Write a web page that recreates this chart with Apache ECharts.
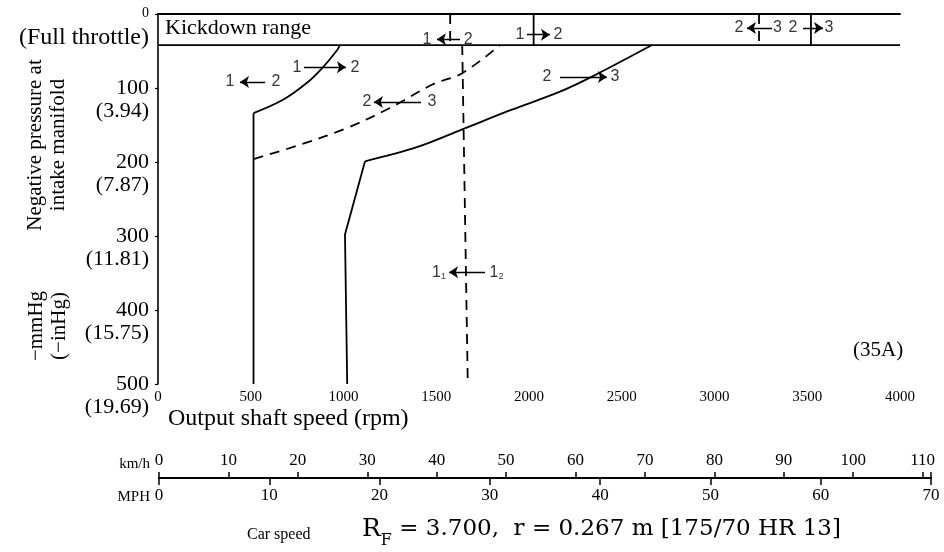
<!DOCTYPE html>
<html>
<head>
<meta charset="utf-8">
<script src="https://cdn.jsdelivr.net/npm/echarts@6/dist/echarts.min.js"></script>
<style>
  html, body { margin: 0; padding: 0; background: #fff; }
  #chart { width: 944px; height: 552px; }
</style>
</head>
<body>
<div id="chart"></div>
<script>
// Automatic transmission shift pattern:
// output shaft speed (rpm) against negative intake manifold pressure (mmHg)

const rpmMax = 4000;
const rpmStep = 500;
const pressureTicks = [0, 100, 200, 300, 400, 500];
const pressureInHg = ['Full throttle', '3.94', '7.87', '11.81', '15.75', '19.69'];

// car speed scales (km/h on top, MPH below)
const kmhTicks = [0, 10, 20, 30, 40, 50, 60, 70, 80, 90, 100, 110];
const mphTicks = [0, 10, 20, 30, 40, 50, 60, 70];
const kmhAtScaleEnd = 111.2;

// shift lines [rpm, mmHg]
const upshift12Vertical = [[515, 500], [515, 134]];
const upshift12Curve = [[515, 134], [674, 116], [803, 93], [889, 72], [965, 49], [980, 42]];
const downshift32Curve = [[515, 196], [750, 178], [1019, 154], [1250, 127], [1482, 95], [1640, 80], [1844, 42]];
const upshift23Lower = [[1020, 500], [1008, 298], [1116, 199]];
const upshift23Curve = [[1116, 199], [1396, 180], [1640, 156], [1900, 130], [2167, 105], [2345, 84], [2663, 42]];
const downshift21Line = [[1640, 42], [1670, 500]];

// kickdown (full throttle) band
const kickdownLimit = 42;
const kickdownUpshifts = [2025, 3520];
const kickdownDownshifts = [1575, 3240];

// shift direction notes: [from, to, mmHg, fromTextRpm, arrowTailRpm, arrowHeadRpm, toTextRpm]
// "a_b" is gear a with subscript b
const shiftNotes = [
  ['1', '2', 34, 1450, 1628, 1504, 1672],
  ['1', '2', 28, 1951, 1989, 2113, 2156],
  ['2', '3', 19, 3132, 3310, 3175, 3340],
  ['2', '3', 19, 3423, 3477, 3585, 3617],
  ['1', '2', 92, 388, 577, 442, 636],
  ['1', '2', 72, 749, 787, 1013, 1062],
  ['2', '3', 119, 1127, 1418, 1164, 1477],
  ['2', '3', 85, 2097, 2167, 2420, 2464],
  ['1_1', '1_2', 349, 1515, 1763, 1569, 1825]
];

const ink = '#000';
const serif = 'Liberation Serif';
const solid = { color: ink, width: 1.8, type: 'solid' };
const dashed = { color: ink, width: 1.8, type: [10, 7] };

function lineSeries(data, style, smooth) {
  return {
    type: 'line', xAxisIndex: 0, yAxisIndex: 0, data: data,
    symbol: 'none', smooth: smooth || false, lineStyle: style,
    silent: true, animation: false, z: 3
  };
}

const series = [
  lineSeries([[0, 0], [rpmMax, 0]], { color: ink, width: 1.6 }),
  lineSeries([[0, kickdownLimit], [rpmMax, kickdownLimit]], { color: ink, width: 1.6 }),
  lineSeries(upshift12Vertical, solid),
  lineSeries(upshift12Curve, solid, 0.35),
  lineSeries(downshift32Curve, dashed, 0.35),
  lineSeries(upshift23Lower, solid),
  lineSeries(upshift23Curve, solid, 0.35),
  lineSeries(downshift21Line, dashed)
];
kickdownUpshifts.forEach(v => series.push(lineSeries([[v, 0], [v, kickdownLimit]], solid)));
kickdownDownshifts.forEach(v => series.push(lineSeries([[v, 0], [v, kickdownLimit]], dashed)));

// arrows of the shift notes
series.push({
  type: 'lines', coordinateSystem: 'cartesian2d', xAxisIndex: 0, yAxisIndex: 0,
  symbol: ['none', 'arrow'], symbolSize: [0, 9],
  lineStyle: { color: ink, width: 1.4, opacity: 1, curveness: 0 },
  data: shiftNotes.map(n => ({ coords: [[n[4], n[2]], [n[5], n[2]]] })),
  silent: true, animation: false, z: 4
});

// gear numbers of the shift notes
const noteLabels = [];
shiftNotes.forEach(n => {
  noteLabels.push([n[3], n[2], n[0]]);
  noteLabels.push([n[6], n[2], n[1]]);
});
function gearText(t) {
  const parts = t.split('_');
  return parts.length > 1 ? '{n|' + parts[0] + '}{s|' + parts[1] + '}' : '{n|' + t + '}';
}
series.push({
  type: 'scatter', xAxisIndex: 0, yAxisIndex: 0, symbolSize: 0,
  data: noteLabels,
  label: {
    show: true, position: 'inside', color: ink,
    formatter: p => gearText(p.data[2]),
    rich: {
      n: { fontFamily: 'Liberation Sans', fontSize: 16, lineHeight: 18, color: ink },
      s: { fontFamily: 'Liberation Sans', fontSize: 9, lineHeight: 18, verticalAlign: 'bottom', color: ink }
    }
  },
  silent: true, animation: false, z: 5
});

// empty series to hold the car speed scale grid
series.push({ type: 'line', xAxisIndex: 1, yAxisIndex: 1, data: [], silent: true });

const chart = echarts.init(document.getElementById('chart'), null, { renderer: 'canvas' });
chart.setOption({
  backgroundColor: '#fff',
  animation: false,
  grid: [
    { left: 158, right: 44, top: 14, bottom: 168 },
    { left: 159, right: 13, top: 478, height: 0 }
  ],
  xAxis: [
    {
      type: 'value', gridIndex: 0, min: 0, max: rpmMax, interval: rpmStep,
      axisLine: { show: true, lineStyle: { color: ink, width: 1.8 } },
      axisTick: { show: false },
      splitLine: { show: false },
      axisLabel: { color: ink, fontFamily: serif, fontSize: 15, margin: 6, formatter: v => String(v) }
    },
    {
      type: 'value', gridIndex: 1, position: 'top', min: 0, max: kmhAtScaleEnd, interval: 10,
      axisLine: { show: true, onZero: false, lineStyle: { color: ink, width: 2 } },
      axisTick: { show: true, length: 6, lineStyle: { color: ink, width: 1.5 } },
      splitLine: { show: false },
      axisLabel: {
        color: ink, fontFamily: serif, fontSize: 17, margin: 9,
        formatter: v => kmhTicks.indexOf(v) >= 0 ? String(v) : ''
      }
    },
    {
      type: 'value', gridIndex: 1, position: 'bottom', min: 0, max: mphTicks[mphTicks.length - 1], interval: 10,
      axisLine: { show: true, onZero: false, lineStyle: { color: ink, width: 2 } },
      axisTick: { show: true, length: 7, lineStyle: { color: ink, width: 1.5 } },
      splitLine: { show: false },
      axisLabel: { color: ink, fontFamily: serif, fontSize: 17, margin: 9, formatter: v => String(v) }
    }
  ],
  yAxis: [
    {
      type: 'value', gridIndex: 0, inverse: true,
      min: pressureTicks[0], max: pressureTicks[pressureTicks.length - 1], interval: 100,
      axisLine: { show: true, lineStyle: { color: ink, width: 1.6 } },
      axisTick: { show: true, length: 3, lineStyle: { color: ink, width: 1.2 } },
      splitLine: { show: false },
      axisLabel: {
        color: ink, margin: 9, align: 'right', verticalAlign: 'middle',
        padding: [23, 0, 0, 0],
        formatter: v => {
          const i = pressureTicks.indexOf(v);
          if (i === 0) return '{z|' + v + '}\n{f|(' + pressureInHg[i] + ')}';
          return '{v|' + v + '}\n{p|(' + pressureInHg[i] + ')}';
        },
        rich: {
          z: { fontFamily: serif, fontSize: 14, lineHeight: 24, color: ink, align: 'right' },
          f: { fontFamily: serif, fontSize: 24, lineHeight: 24, color: ink, align: 'right' },
          v: { fontFamily: serif, fontSize: 22, lineHeight: 23, color: ink, align: 'right' },
          p: { fontFamily: serif, fontSize: 22, lineHeight: 23, color: ink, align: 'right' }
        }
      }
    },
    { type: 'value', gridIndex: 1, show: false, min: 0, max: 1 }
  ],
  graphic: [
    {
      type: 'text', left: 165, top: 17,
      style: { text: 'Kickdown range', fontFamily: serif, fontSize: 22, fill: ink }
    },
    {
      type: 'text', x: 47, y: 145, rotation: Math.PI / 2,
      style: {
        text: 'Negative pressure at\nintake manifold', fontFamily: serif, fontSize: 21,
        lineHeight: 23, fill: ink, align: 'center', verticalAlign: 'middle'
      }
    },
    {
      type: 'text', x: 48, y: 326, rotation: Math.PI / 2,
      style: {
        text: '\u2212mmHg\n(\u2212inHg)', fontFamily: serif, fontSize: 21,
        lineHeight: 23, fill: ink, align: 'center', verticalAlign: 'middle'
      }
    },
    {
      type: 'text', left: 168, top: 407,
      style: { text: 'Output shaft speed (rpm)', fontFamily: serif, fontSize: 24, fill: ink }
    },
    {
      type: 'text', x: 853, y: 350,
      style: { text: '(35A)', fontFamily: serif, fontSize: 21, fill: ink, verticalAlign: 'middle' }
    },
    {
      type: 'text', x: 150, y: 464,
      style: { text: 'km/h', fontFamily: serif, fontSize: 15, fill: ink, align: 'right', verticalAlign: 'middle' }
    },
    {
      type: 'text', x: 150, y: 497,
      style: { text: 'MPH', fontFamily: serif, fontSize: 15, fill: ink, align: 'right', verticalAlign: 'middle' }
    },
    {
      type: 'text', x: 247, y: 535,
      style: { text: 'Car speed', fontFamily: serif, fontSize: 16, fill: ink, verticalAlign: 'middle' }
    },
    {
      type: 'text', x: 362, y: 529,
      style: {
        text: '{R|R}{F|F}{t| = 3.700,  r = 0.267 m [175/70 HR 13]}',
        verticalAlign: 'middle',
        rich: {
          R: { fontFamily: 'DejaVu Serif', fontSize: 25, lineHeight: 28, fill: ink },
          F: { fontFamily: 'DejaVu Serif', fontSize: 16, lineHeight: 28, fill: ink, verticalAlign: 'bottom', padding: [0, 0, -6, 0] },
          t: { fontFamily: 'DejaVu Serif', fontSize: 23, lineHeight: 28, fill: ink }
        }
      }
    }
  ],
  series: series
});
</script>
</body>
</html>
